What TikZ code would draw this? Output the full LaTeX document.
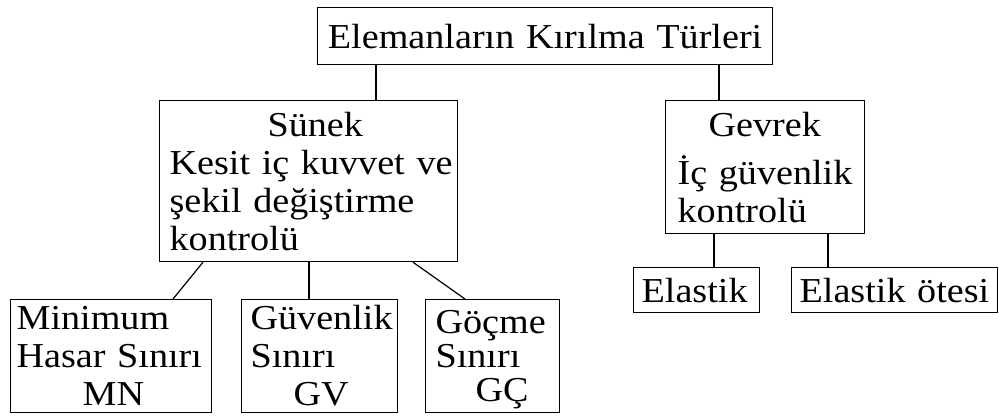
\documentclass[tikz,border=0pt]{standalone}
\usepackage{fontspec}
\setmainfont{Liberation Serif}[FakeStretch=1.09]
\begin{document}
\begin{tikzpicture}[x=1pt,y=-1pt,
  box/.style={draw, line width=1.2pt, anchor=north west, inner ysep=0pt,
    align=left, font=\fontsize{35pt}{38pt}\selectfont},
  link/.style={line width=1.2pt}]
\useasboundingbox (0,0) rectangle (999,416);
\fill[white] (0,0) rectangle (999,416);
% boxes
\node[box, align=center, inner xsep=0pt, minimum width=455pt, minimum height=57pt, text width=455pt] (top) at (317,7) {\mbox{Elemanların Kırılma Türleri}};
\node[box, inner xsep=10pt, minimum height=161pt, text width=278pt] (sunek) at (159,100)
  {\hspace*{98pt}Sünek\\\mbox{Kesit iç kuvvet ve}\\\mbox{şekil değiştirme}\\kontrolü};
\node[box, inner xsep=12pt, minimum height=133pt, text width=175pt] (gevrek) at (665,100)
  {\hspace*{31pt}Gevrek\\[10pt]\mbox{İç güvenlik}\\kontrolü};
\node[box, inner xsep=8pt, minimum height=45pt, text width=110pt] (elastik) at (633,267) {Elastik};
\node[box, inner xsep=8pt, minimum height=45pt, text width=190pt] (otesi) at (791,267) {\mbox{Elastik ötesi}};
\node[box, inner xsep=6pt, minimum height=113pt, text width=189pt] (minimum) at (10,299)
  {Minimum\\\mbox{Hasar Sınırı}\\\hspace*{66pt}MN};
\node[box, inner xsep=9pt, minimum height=113pt, text width=138pt] (guv) at (241,299)
  {Güvenlik\\Sınırı\\\hspace*{43pt}GV};
\node[box, inner xsep=10pt, minimum height=113pt, text width=114pt,
  font=\fontsize{35pt}{34pt}\selectfont] (gocme) at (425,299)
  {Göçme\\Sınırı\\\hspace*{40pt}\smash{GÇ}};
% connectors
\draw[link] ([xshift=59pt]top.south west) coordinate (a1) -- (a1 |- sunek.north);
\draw[link] ([xshift=402pt]top.south west) coordinate (a2) -- (a2 |- gevrek.north);
\draw[link] ([xshift=44pt]sunek.south west) -- ([xshift=163pt]minimum.north west);
\draw[link] ([xshift=150pt]sunek.south west) coordinate (a3) -- (a3 |- guv.north);
\draw[link] ([xshift=254pt]sunek.south west) -- ([xshift=40pt]gocme.north west);
\draw[link] ([xshift=49pt]gevrek.south west) coordinate (a4) -- (a4 |- elastik.north);
\draw[link] ([xshift=163pt]gevrek.south west) coordinate (a5) -- (a5 |- otesi.north);
\end{tikzpicture}
\end{document}
